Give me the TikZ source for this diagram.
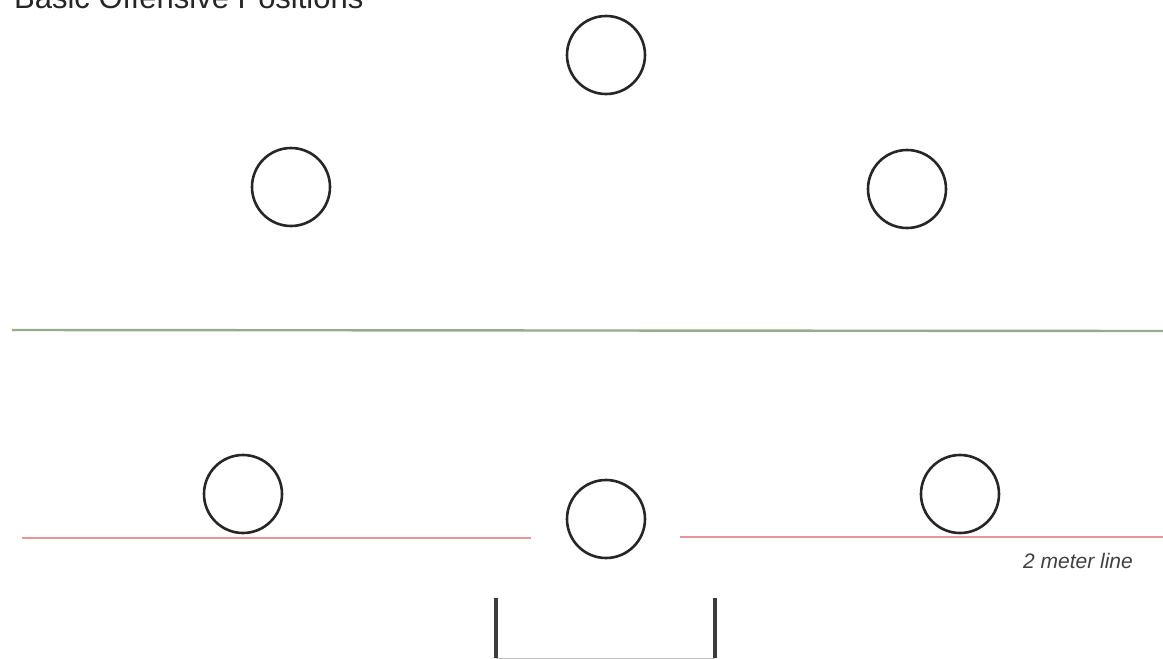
\documentclass[tikz,border=0pt]{standalone}
\usepackage{fontspec}
\setmainfont{Liberation Sans}
\definecolor{greenline}{RGB}{150,170,140}
\definecolor{redline}{RGB}{235,150,150}
\definecolor{goalgray}{RGB}{60,60,60}
\begin{document}
\begin{tikzpicture}[x=1pt,y=-1pt,
  player/.style={circle,draw=black!85,line width=2.6pt,minimum size=78pt,inner sep=0pt},
  greenln/.style={draw=greenline,line width=2.4pt},
  redln/.style={draw=redline,line width=2.6pt},
  goalpost/.style={draw=goalgray,line width=3.4pt},
  goalline/.style={draw=black!25,line width=1pt}]
\useasboundingbox (0,0) rectangle (1163,659);
\clip (0,0) rectangle (1163,659);
\node[anchor=base west,font=\fontsize{31}{35}\selectfont,text=black!85,inner sep=0pt] (title) at (14,8) {Basic Offensive Positions};
\node[player] (p1) at (606,55) {};
\node[player] (p2) at (291,187) {};
\node[player] (p3) at (907,189) {};
\node[player] (p4) at (243,494) {};
\node[player] (p5) at (606,519) {};
\node[player] (p6) at (960,494) {};
\coordinate (gl1) at (12,330);
\coordinate (gl2) at (1163,331);
\draw[greenln] (gl1) -- (gl2);
\coordinate (rl1) at (22,538);
\coordinate (rl2) at (531,538);
\coordinate (rr1) at (680,537);
\coordinate (rr2) at (1163,537);
\draw[redln] (rl1) -- (rl2);
\draw[redln] (rr1) -- (rr2);
\node[anchor=east,font=\itshape\fontsize{21}{24}\selectfont,text=black!75,inner sep=0pt] (lbl) at (1133,561) {2 meter line};
\coordinate (g1) at (496,598);
\coordinate (g2) at (496,658);
\coordinate (g3) at (715,658);
\coordinate (g4) at (715,598);
\draw[goalline] (g2) -- (g3);
\draw[goalpost] (g1) -- (g2);
\draw[goalpost] (g4) -- (g3);
\end{tikzpicture}
\end{document}
